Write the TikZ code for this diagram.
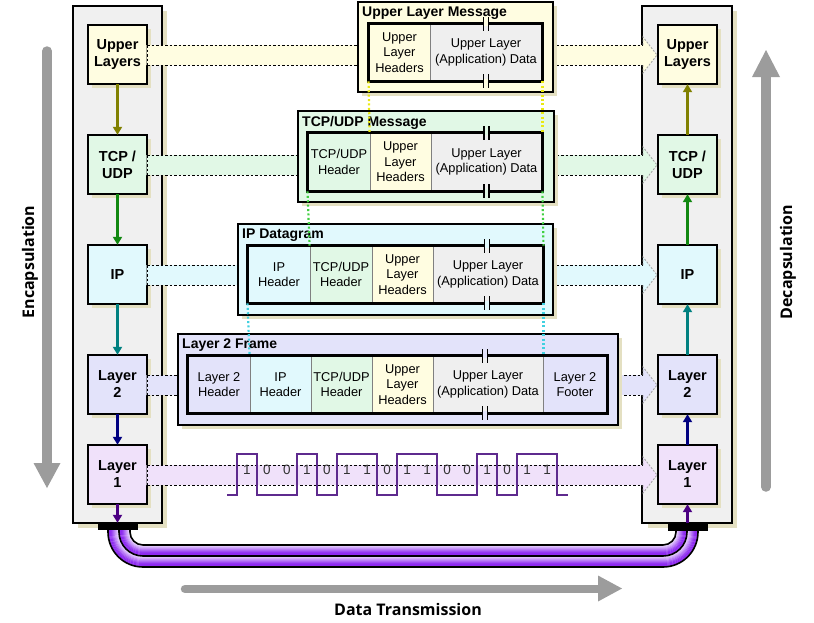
\documentclass[tikz,border=0pt]{standalone}
\usepackage{fontspec}
\setmainfont{Liberation Sans}
\newfontfamily\capfont{Open Sans}
\usetikzlibrary{arrows.meta}

\definecolor{cU}{HTML}{FFFDE1}
\definecolor{cT}{HTML}{E1F8E6}
\definecolor{cI}{HTML}{E1F9FD}
\definecolor{cL}{HTML}{E3E3FA}
\definecolor{cOne}{HTML}{F0E1FA}
\definecolor{cD}{HTML}{EFEFEF}
\definecolor{cPan}{HTML}{F0F0F0}
\definecolor{shcol}{HTML}{E4E0C2}
\definecolor{cGr}{HTML}{808080}
\definecolor{aU}{HTML}{808000}
\definecolor{aT}{HTML}{118811}
\definecolor{aI}{HTML}{008080}
\definecolor{aL}{HTML}{000080}
\definecolor{aOne}{HTML}{4B0082}
\definecolor{dotY}{HTML}{EAEA10}
\definecolor{dotG}{HTML}{40D040}
\definecolor{dotC}{HTML}{40D0E0}
\definecolor{wave}{HTML}{5E2A8E}
\definecolor{cabdk}{HTML}{8E2BF0}
\definecolor{cablt}{HTML}{F4ECFF}
\definecolor{bigg}{HTML}{9C9C9C}

\newcommand\mkband[2]{%
  \fill[#2] (146.3,#1-10) -- (643,#1-10) -- (643,#1-18) -- (657,#1) -- (643,#1+18) -- (643,#1+10) -- (146.3,#1+10) -- cycle;
  \draw[bandline] (147,#1-10) -- (643,#1-10) (147,#1+10) -- (643,#1+10);
  \draw[bandline] (147,#1-10) -- (147,#1+10);
  \draw[headline] (643,#1-10) -- (643,#1-18) -- (657,#1) -- (643,#1+18) -- (643,#1+10);
}
\newcommand\mkbreak[3]{%
  \fill[#3] (#1-2,#2-1.8) rectangle (#1+2,#2+1.8);
  \draw[line width=1.4pt] (#1-2.6,#2-7) -- (#1-2.6,#2+7) (#1+2.6,#2-7) -- (#1+2.6,#2+7);
}

\begin{document}
\begin{tikzpicture}[x=1pt,y=-1pt,
  shad/.style={preaction={fill=shcol, draw=none, transform canvas={shift={(4pt,-4pt)}}}},
  panel/.style={preaction={fill=shcol, draw=none, transform canvas={shift={(5pt,-5pt)}}},
    fill=cPan, minimum width=89pt, minimum height=517pt, inner sep=0pt},
  lbox/.style={shad, minimum width=59pt, minimum height=59pt,
    inner sep=0pt, align=center, font=\bfseries\fontsize{14.5}{17}\selectfont},
  msg/.style={shad, inner sep=0pt},
  brd/.style={draw=black, line width=2.2pt},
  cell/.style={draw=cGr, line width=0.9pt, inner sep=0pt, minimum height=57pt, align=center,
    font=\fontsize{12.8}{15.5}\selectfont},
  ttl/.style={anchor=west, inner sep=0pt, font=\bfseries\fontsize{14}{16}\selectfont},
  bandline/.style={draw=black, line width=0.9pt, dash pattern=on 2.5pt off 2pt},
  headline/.style={draw=gray!70, line width=0.9pt, dash pattern=on 2pt off 1.5pt},
  arr/.style={line width=2.2pt, -{Triangle[length=8pt,width=9pt]}},
  dotl/.style={line width=2.2pt, dash pattern=on 2pt off 2.4pt},
  bit/.style={inner sep=0pt, font=\fontsize{13.5}{15}\selectfont, text=black!80},
  captxt/.style={inner sep=0pt, font=\capfont\bfseries\fontsize{16}{18}\selectfont}
]
\useasboundingbox (0,0) rectangle (814,622);

% panels
\node[panel] (pl) at (117.5,264.5) {};
\node[panel] (pr) at (687,264.5) {};
\foreach \n in {pl,pr}{\draw[brd] (\n.north west) rectangle (\n.south east);}

% layer boxes
\node[lbox, fill=cU] (lu) at (117.5,54.5) {Upper\\Layers};
\node[lbox, fill=cT] (lt) at (117.5,164.5) {TCP /\\UDP};
\node[lbox, fill=cI] (li) at (117.5,274.5) {IP};
\node[lbox, fill=cL] (ll2) at (117.5,384.5) {Layer\\2};
\node[lbox, fill=cOne] (ll1) at (117.5,474.5) {Layer\\1};
\node[lbox, fill=cU] (ru) at (687.5,54.5) {Upper\\Layers};
\node[lbox, fill=cT] (rt) at (687.5,164.5) {TCP /\\UDP};
\node[lbox, fill=cI] (ri) at (687.5,274.5) {IP};
\node[lbox, fill=cL] (rl2) at (687.5,384.5) {Layer\\2};
\node[lbox, fill=cOne] (rl1) at (687.5,474.5) {Layer\\1};
\foreach \n in {lu,lt,li,ll2,ll1,ru,rt,ri,rl2,rl1}{\draw[brd] (\n.north west) rectangle (\n.south east);}

% bands
\mkband{55}{cU}
\mkband{165}{cT}
\mkband{275}{cI}
\mkband{385}{cL}
\mkband{475}{cOne}

% message boxes
\node[msg, fill=cU, minimum width=195pt, minimum height=90pt] (mU) at (455.5,47) {};
\node[msg, fill=cT, minimum width=256pt, minimum height=91pt] (mT) at (426,156.5) {};
\node[msg, fill=cI, minimum width=315pt, minimum height=91pt] (mI) at (395.5,269.5) {};
\node[msg, fill=cL, minimum width=440pt, minimum height=91pt] (mL) at (398,379.5) {};
\foreach \n in {mU,mT,mI,mL}{\draw[brd] (\n.north west) rectangle (\n.south east);}

\node[ttl] (tU) at (362,13) {Upper Layer Message};
\node[ttl] (tT) at (302,122.5) {TCP/UDP Message};
\node[ttl] (tI) at (242,235) {IP Datagram};
\node[ttl] (tL) at (182,345) {Layer 2 Frame};

% row U
\node[cell, fill=cU, minimum width=61pt] (u1) at (399.5,52.5) {Upper\\Layer\\Headers};
\node[cell, fill=cD, minimum width=112pt] (u2) at (486,52.5) {Upper Layer\\(Application) Data};
\draw[brd] (u1.north west) rectangle (u2.south east);
\mkbreak{486}{24}{cU}
\mkbreak{486}{81}{cU}

% row T
\node[cell, fill=cT, minimum width=62pt, minimum height=58pt] (t1) at (339,162) {TCP/UDP\\Header};
\node[cell, fill=cU, minimum width=61pt, minimum height=58pt] (t2) at (400.5,162) {Upper\\Layer\\Headers};
\node[cell, fill=cD, minimum width=111pt, minimum height=58pt] (t3) at (486.5,162) {Upper Layer\\(Application) Data};
\draw[brd] (t1.north west) rectangle (t3.south east);
\mkbreak{486.5}{133}{cT}
\mkbreak{486.5}{191}{cT}

% row I
\node[cell, fill=cI, minimum width=62pt] (i1) at (279,274.5) {IP\\Header};
\node[cell, fill=cT, minimum width=62pt] (i2) at (341,274.5) {TCP/UDP\\Header};
\node[cell, fill=cU, minimum width=61pt] (i3) at (402.5,274.5) {Upper\\Layer\\Headers};
\node[cell, fill=cD, minimum width=110pt] (i4) at (488,274.5) {Upper Layer\\(Application) Data};
\draw[brd] (i1.north west) rectangle (i4.south east);
\mkbreak{487}{246}{cI}
\mkbreak{487}{303}{cI}

% row L
\node[cell, fill=cL, minimum width=62pt] (l1) at (219,384.5) {Layer 2\\Header};
\node[cell, fill=cI, minimum width=61pt] (l2) at (280.5,384.5) {IP\\Header};
\node[cell, fill=cT, minimum width=61pt] (l3) at (341.5,384.5) {TCP/UDP\\Header};
\node[cell, fill=cU, minimum width=61pt] (l4) at (402.5,384.5) {Upper\\Layer\\Headers};
\node[cell, fill=cD, minimum width=110pt] (l5) at (488,384.5) {Upper Layer\\(Application) Data};
\node[cell, fill=cL, minimum width=64pt] (l6) at (575,384.5) {Layer 2\\Footer};
\draw[brd] (l1.north west) rectangle (l6.south east);
\mkbreak{485}{356}{cL}
\mkbreak{485}{413}{cL}

% dotted guides
\draw[dotl, dotY] (u1.south west) -- (t2.north west);
\draw[dotl, dotY] (u2.south east) -- (t3.north east);
\draw[dotl, dotG] (t1.south west) -- (i2.north west);
\draw[dotl, dotG] (t3.south east) -- (i4.north east);
\draw[dotl, dotC] (i1.south west) -- (l2.north west);
\draw[dotl, dotC] (i4.south east) -- (l5.north east);

% bit stream
\foreach \b [count=\i from 0] in {1,0,0,1,0,1,1,0,1,1,0,0,1,0,1,1}{
  \node[bit] (bit\i) at (247+20*\i,470) {\b};
}
\draw[wave, line width=2.1pt] (227,495) -- (237,495) -- (237,454) -- (257,454) -- (257,495) -- (297,495)
  -- (297,454) -- (317,454) -- (317,495) -- (337,495) -- (337,454) -- (377,454) -- (377,495)
  -- (397,495) -- (397,454) -- (437,454) -- (437,495) -- (477,495) -- (477,454) -- (497,454)
  -- (497,495) -- (517,495) -- (517,454) -- (557,454) -- (557,495) -- (568,495);

% cable
\foreach \o in {-10.5,-9.5,...,10.5}{
  \pgfmathtruncatemacro\p{\o<0 ? min(100,(\o+11)/8*100) : min(100,\o/8*100)}
  \pgfmathsetmacro\xa{119-(\o)}
  \pgfmathsetmacro\xb{687+(\o)}
  \pgfmathsetmacro\yh{556+(\o)}
  \pgfmathsetmacro\rr{24+(\o)}
  \draw[line width=1.15pt, cabdk!\p!cablt, rounded corners=\rr pt] (\xa,529) -- (\xa,\yh) -- (\xb,\yh) -- (\xb,529);
}
\foreach \o in {-11,0,11}{
  \pgfmathsetmacro\xa{119-(\o)}
  \pgfmathsetmacro\xb{687+(\o)}
  \pgfmathsetmacro\yh{556+(\o)}
  \pgfmathsetmacro\rr{24+(\o)}
  \draw[line width=1.6pt, black, rounded corners=\rr pt] (\xa,529) -- (\xa,\yh) -- (\xb,\yh) -- (\xb,529);
}
\node[fill=black, minimum width=40pt, minimum height=7pt, inner sep=0pt] (cnL) at (117.5,526.5) {};
\node[fill=black, minimum width=40pt, minimum height=7pt, inner sep=0pt] (cnR) at (687.5,527) {};

% layer arrows
\draw[arr, aU] (lu.south) -- (lt.north);
\draw[arr, aT] (lt.south) -- (li.north);
\draw[arr, aI] (li.south) -- (ll2.north);
\draw[arr, aL] (ll2.south) -- (ll1.north);
\draw[arr, aOne] (ll1.south) -- (cnL.north);
\draw[arr, aOne] (cnR.north) -- (rl1.south);
\draw[arr, aL] (rl1.north) -- (rl2.south);
\draw[arr, aI] (rl2.north) -- (ri.south);
\draw[arr, aT] (ri.north) -- (rt.south);
\draw[arr, aU] (rt.north) -- (ru.south);

% big grey arrows
\draw[bigg, line width=9.5pt, line cap=round] (47,51) -- (47,466);
\fill[bigg] (33.5,463) -- (60.5,463) -- (47,488) -- cycle;
\draw[bigg, line width=9.5pt, line cap=round] (766,487) -- (766,76);
\fill[bigg] (752,77) -- (780,77) -- (766,50) -- cycle;
\draw[bigg, line width=8.5pt, line cap=round] (185,589) -- (600,589);
\fill[bigg] (598,575.5) -- (598,601.5) -- (622,588.5) -- cycle;

\node[captxt, rotate=90] (enc) at (30,262) {Encapsulation};
\node[captxt, rotate=90] (dec) at (788,262) {Decapsulation};
\node[captxt] (dtx) at (408,609) {Data Transmission};
\end{tikzpicture}
\end{document}
